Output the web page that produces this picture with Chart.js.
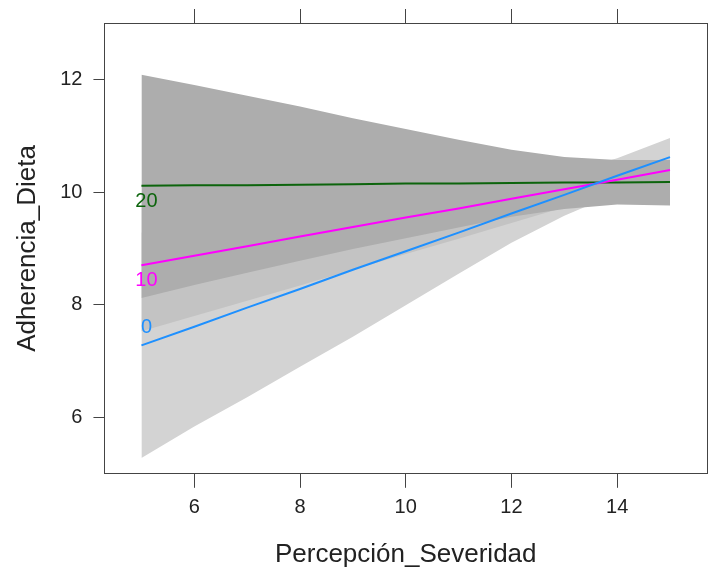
<!DOCTYPE html>
<html lang="es">
<head>
  <meta charset="UTF-8">
  <title>Adherencia_Dieta vs Percepción_Severidad</title>
  <script src="https://cdn.jsdelivr.net/npm/chart.js"></script>
  <style>
    html, body { margin: 0; padding: 0; background: white; }
    #wrap { width: 710px; height: 574px; }
  </style>
</head>
<body>
  <div id="wrap"><canvas id="effChart"></canvas></div>

  <script>
    // values
    const xGrid = [5, 6, 7, 8, 9, 10, 11, 12, 13, 14, 15];
    const xTicks = [6, 8, 10, 12, 14];
    const yTicks = [6, 8, 10, 12];
    const groupNames = ['0', '10', '20'];

    const fit0  = [7.28, 7.61, 7.95, 8.28, 8.62, 8.95, 9.28, 9.62, 9.95, 10.29, 10.62];
    const fit10 = [8.70, 8.87, 9.04, 9.21, 9.38, 9.55, 9.71, 9.88, 10.05, 10.22, 10.39];
    const fit20 = [10.11, 10.12, 10.12, 10.13, 10.14, 10.15, 10.15, 10.16, 10.17, 10.17, 10.18];

    const lo0  = [5.28, 5.84, 6.36, 6.90, 7.43, 7.99, 8.55, 9.10, 9.58, 9.98, 10.28];
    const hi0  = [9.28, 9.38, 9.54, 9.66, 9.81, 9.91, 10.01, 10.14, 10.32, 10.60, 10.96];
    const lo10 = [7.53, 7.80, 8.07, 8.34, 8.62, 8.90, 9.17, 9.45, 9.73, 9.98, 10.26];
    const hi10 = [9.87, 9.92, 9.97, 10.03, 10.10, 10.17, 10.23, 10.30, 10.37, 10.46, 10.52];
    const lo20 = [8.12, 8.35, 8.57, 8.78, 8.99, 9.18, 9.37, 9.56, 9.70, 9.78, 9.76];
    const hi20 = [12.08, 11.90, 11.71, 11.52, 11.31, 11.12, 10.93, 10.75, 10.62, 10.57, 10.57];

    const lineColors = ['#1e90ff', '#ff00ff', '#0c640c'];
    const bandColors = ['#d3d3d3', '#c3c3c3', '#adadad'];

    const pts = ys => ys.map((y, i) => ({ x: xGrid[i], y: y }));

    function band(data, color, order, fill) {
      return {
        data: pts(data),
        borderWidth: 0,
        pointRadius: 0,
        backgroundColor: color,
        fill: fill,
        order: order
      };
    }
    function fitLine(data, color) {
      return {
        data: pts(data),
        borderColor: color,
        borderWidth: 2,
        pointRadius: 0,
        fill: false,
        order: 0
      };
    }

    // group labels next to the left end of each line
    const labelOffsets = [-18, 15, 16];
    const groupLabels = {
      id: 'groupLabels',
      afterDatasetsDraw(chart) {
        const { ctx, scales } = chart;
        const fits = [fit0, fit10, fit20];
        ctx.save();
        ctx.font = "20px 'Liberation Sans', Arial, sans-serif";
        ctx.textAlign = 'center';
        ctx.textBaseline = 'middle';
        groupNames.forEach((name, i) => {
          ctx.fillStyle = lineColors[i];
          const px = scales.x.getPixelForValue(xGrid[0]) + 5;
          const py = scales.y.getPixelForValue(fits[i][0]) + labelOffsets[i];
          ctx.fillText(name, px, py);
        });
        ctx.restore();
      }
    };

    Chart.defaults.font.family = "'Liberation Sans', Arial, sans-serif";
    Chart.defaults.color = '#222';

    const axisGrid = { drawOnChartArea: false, drawTicks: true, tickLength: 14, color: '#444', lineWidth: 1 };
    const axisBorder = { display: true, color: '#444', width: 1 };

    new Chart(document.getElementById('effChart'), {
      type: 'line',
      data: {
        datasets: [
          fitLine(fit0, lineColors[0]),
          fitLine(fit10, lineColors[1]),
          fitLine(fit20, lineColors[2]),
          band(hi20, bandColors[2], 1, '+1'),
          band(lo20, 'rgba(0,0,0,0)', 1, false),
          band(hi10, bandColors[1], 2, '+1'),
          band(lo10, 'rgba(0,0,0,0)', 2, false),
          band(hi0, bandColors[0], 3, '+1'),
          band(lo0, 'rgba(0,0,0,0)', 3, false)
        ]
      },
      options: {
        responsive: true,
        maintainAspectRatio: false,
        animation: false,
        layout: { padding: { left: 0, right: 3, top: 8, bottom: 0 } },
        plugins: {
          legend: { display: false },
          tooltip: { enabled: false },
          filler: { propagate: false }
        },
        scales: {
          x: {
            type: 'linear',
            position: 'bottom',
            min: 4.3,
            max: 15.7,
            afterBuildTicks: s => { s.ticks = xTicks.map(v => ({ value: v })); },
            ticks: { font: { size: 20 }, padding: 8, maxRotation: 0 },
            grid: axisGrid,
            border: axisBorder,
            title: {
              display: true,
              text: 'Percepción_Severidad',
              font: { size: 26 },
              color: '#222',
              padding: { top: 11, bottom: 4 }
            }
          },
          xTop: {
            type: 'linear',
            position: 'top',
            min: 4.3,
            max: 15.7,
            afterBuildTicks: s => { s.ticks = xTicks.map(v => ({ value: v })); },
            ticks: { display: false },
            grid: axisGrid,
            border: axisBorder
          },
          y: {
            type: 'linear',
            position: 'left',
            min: 5.0,
            max: 13.0,
            afterBuildTicks: s => { s.ticks = yTicks.map(v => ({ value: v })); },
            ticks: { font: { size: 20 }, padding: 11 },
            grid: Object.assign({}, axisGrid, { tickLength: 11 }),
            border: axisBorder,
            title: {
              display: true,
              text: 'Adherencia_Dieta',
              font: { size: 26 },
              color: '#222',
              padding: { top: 12, bottom: 6 }
            }
          },
          yRight: {
            type: 'linear',
            position: 'right',
            min: 5.0,
            max: 13.0,
            ticks: { display: false },
            grid: { display: false, drawTicks: false },
            border: axisBorder
          }
        }
      },
      plugins: [groupLabels]
    });
  </script>
</body>
</html>
